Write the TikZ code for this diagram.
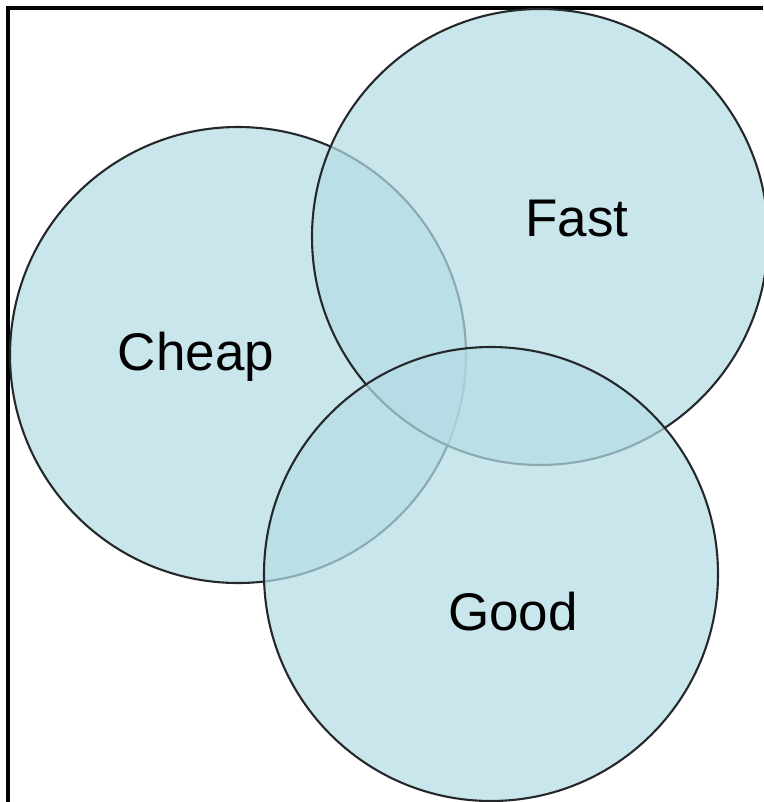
\documentclass[tikz,border=0pt]{standalone}
\usepackage{fontspec}
\setmainfont{Liberation Sans}
\definecolor{vennfill}{RGB}{180,220,228}
\definecolor{vennline}{RGB}{36,40,42}
\tikzset{
vennset/.style={
	  draw=vennline, line width=2.1pt, circle, fill=vennfill,
	    fill opacity=0.72, draw opacity=1, inner sep=0pt, minimum size=456pt},
venntext/.style={
	  font=\fontsize{53}{60}\selectfont, text=black, inner sep=0pt}
}

\begin{document}
\begin{tikzpicture}[x=1pt, y=-1pt]
	\useasboundingbox (0,0) rectangle (763,802);
	\draw[line width=3.4pt] (8,802) -- (8,8) -- (763,8);
	\node[vennset] (cheap) at (238,355) {};
	\node[vennset] (fast) at (540,237) {};
	\node[vennset, minimum size=454pt] (good) at (491,574) {};
	\node[venntext] (cheaplabel) at (196,357) {Cheap};
	\node[venntext] (fastlabel) at (577,219) {Fast};
	\node[venntext] (goodlabel) at (513,612) {Good};
\end{tikzpicture}
\end{document}
